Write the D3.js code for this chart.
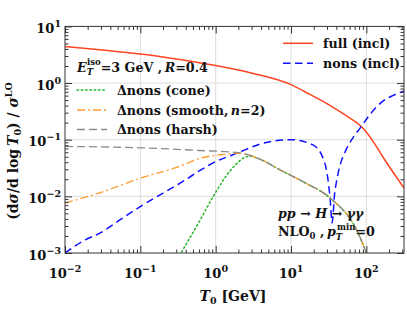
<!DOCTYPE html>
<html>
<head>
<meta charset="utf-8">
<script src="https://cdn.jsdelivr.net/npm/d3@7"></script>
<style>
body { margin: 0; background: #fff; }
svg text { font-family: "DejaVu Serif", serif; font-weight: bold; fill: #111; }
</style>
</head>
<body>
<div id="chart"></div>
<script>
// T0 [GeV] and (dsigma/dlogT0)/sigmaLO
var fullT = [0.01, 0.0316, 0.1, 0.316, 1, 3.16, 10, 17.8, 31.6, 56, 89, 126, 166, 316];
var fullV = [4.42, 3.85, 3.26, 2.63, 2.04, 1.48, 0.94, 0.63, 0.417, 0.257, 0.162, 0.089, 0.0495, 0.014];

// nons (incl) changes sign near 35 GeV, plotted as |value|
var nonsT = [0.01, 0.0178, 0.029, 0.056, 0.1, 0.316, 1, 1.9, 4.3, 10, 19.5, 27, 31, 33.1, 35.1,
             36.3, 37.6, 39.8, 44.7, 53.7, 66, 83, 112, 166, 224, 316];
var nonsV = [0.001, 0.00166, 0.00224, 0.004, 0.0066, 0.0162, 0.041, 0.0575, 0.087, 0.1, 0.081, 0.045, 0.0195, 0.0089, 0.0034,
             0.005, 0.01, 0.017, 0.035, 0.066, 0.107, 0.162, 0.28, 0.48, 0.6, 0.72];

var coneT = [0.33, 0.6, 0.93, 1.55, 2.8, 3.9, 7.1, 15.8, 31, 81, 100];
var coneV = [0.0009, 0.0035, 0.01, 0.028, 0.051, 0.045, 0.0295, 0.017, 0.01, 0.002, 0.001];

var smoothT = [0.01, 0.0316, 0.1, 0.316, 0.62, 1.3, 2.1, 3.9, 7.1, 15.8, 31, 81, 100];
var smoothV = [0.0076, 0.012, 0.021, 0.033, 0.047, 0.055, 0.058, 0.045, 0.0295, 0.017, 0.01, 0.002, 0.001];

var harshT = [0.01, 0.1, 0.6, 2, 3.9, 7.1, 15.8, 31, 81, 100];
var harshV = [0.076, 0.072, 0.0645, 0.059, 0.045, 0.0295, 0.017, 0.01, 0.002, 0.001];

var xMajors = [0.01, 0.1, 1, 10, 100];
var yMajors = [0.001, 0.01, 0.1, 1, 10];

var W = 407, H = 309;
var x = d3.scaleLog().domain([0.01, 316]).range([65, 404]);
var y = d3.scaleLog().domain([0.001, 10]).range([253, 26.4]);

var svg = d3.select("#chart").append("svg").attr("width", W).attr("height", H);

function minors(scale) {
    var out = [];
    var dom = scale.domain();
    for (var e = Math.floor(Math.log10(dom[0])); e <= Math.ceil(Math.log10(dom[1])); e++) {
        for (var k = 2; k <= 9; k++) {
            var v = k * Math.pow(10, e);
            if (v > dom[0] && v < dom[1]) out.push(v);
        }
    }
    return out;
}

// grid
svg.append("g").selectAll("line").data(xMajors.slice(1)).join("line")
    .attr("x1", d => x(d)).attr("x2", d => x(d))
    .attr("y1", y(10)).attr("y2", y(0.001))
    .attr("stroke", "#dcdcdc").attr("stroke-width", 1);
svg.append("g").selectAll("line").data(yMajors.slice(1, -1)).join("line")
    .attr("y1", d => y(d)).attr("y2", d => y(d))
    .attr("x1", x(0.01)).attr("x2", x(316))
    .attr("stroke", "#dcdcdc").attr("stroke-width", 1);

// curves
svg.append("clipPath").attr("id", "clip").append("rect")
    .attr("x", x(0.01)).attr("y", y(10))
    .attr("width", x(316) - x(0.01)).attr("height", y(0.001) - y(10));

var line = d3.line().x(d => x(d[0])).y(d => y(d[1])).curve(d3.curveMonotoneX);

var styles = {
    full:   {color: "#ff4422", width: 1.5, dash: null},
    nons:   {color: "#1010ff", width: 1.5, dash: "7.5,4.5"},
    cone:   {color: "#22b422", width: 1.5, dash: "1.5,2.8", cap: "round"},
    smooth: {color: "#ff9a2e", width: 1.3, dash: "8,3,2,3"},
    harsh:  {color: "#8c8c8c", width: 1.3, dash: "8,4"}
};

var series = [
    ["full", fullT, fullV],
    ["nons", nonsT, nonsV],
    ["cone", coneT, coneV],
    ["smooth", smoothT, smoothV],
    ["harsh", harshT, harshV]
];

var plot = svg.append("g").attr("clip-path", "url(#clip)");
series.forEach(s => {
    var st = styles[s[0]];
    plot.append("path")
        .datum(d3.zip(s[1], s[2]))
        .attr("d", line)
        .attr("fill", "none")
        .attr("stroke", st.color)
        .attr("stroke-width", st.width)
        .attr("stroke-dasharray", st.dash)
        .attr("stroke-linecap", st.cap || "butt");
});

// ticks, pointing inward on all four sides
function ticks(axis, pos, vals, size) {
    var g = svg.append("g").attr("transform", pos)
        .call(axis.tickValues(vals).tickSize(-size).tickFormat(""));
    g.select(".domain").remove();
    g.selectAll("line").attr("stroke", "#333");
    return g;
}
ticks(d3.axisBottom(x), "translate(0," + y(0.001) + ")", xMajors, 7);
ticks(d3.axisBottom(x), "translate(0," + y(0.001) + ")", minors(x), 3.5);
ticks(d3.axisTop(x), "translate(0," + y(10) + ")", xMajors, 7);
ticks(d3.axisTop(x), "translate(0," + y(10) + ")", minors(x), 3.5);
ticks(d3.axisLeft(y), "translate(" + x(0.01) + ",0)", yMajors, 7);
ticks(d3.axisLeft(y), "translate(" + x(0.01) + ",0)", minors(y), 3.5);
ticks(d3.axisRight(y), "translate(" + x(316) + ",0)", yMajors, 7);
ticks(d3.axisRight(y), "translate(" + x(316) + ",0)", minors(y), 3.5);

svg.append("rect")
    .attr("x", x(0.01)).attr("y", y(10))
    .attr("width", x(316) - x(0.01)).attr("height", y(0.001) - y(10))
    .attr("fill", "none").attr("stroke", "#333").attr("stroke-width", 1);

// tick labels 10^n
function powLabel(sel, v) {
    var e = Math.round(Math.log10(v));
    sel.append("tspan").text("10");
    sel.append("tspan").attr("dy", -6).attr("font-size", 9.5)
        .text(e < 0 ? "\u2212" + (-e) : e);
}
xMajors.forEach(v => {
    var t = svg.append("text").attr("x", x(v)).attr("y", 277.5)
        .attr("text-anchor", "middle").attr("font-size", 13);
    powLabel(t, v);
});
yMajors.forEach(v => {
    var t = svg.append("text").attr("x", 61).attr("y", y(v) + 6.5)
        .attr("text-anchor", "end").attr("font-size", 13);
    powLabel(t, v);
});

// axis titles
var xl = svg.append("text").attr("x", 233).attr("y", 301).attr("text-anchor", "middle").attr("font-size", 14);
xl.append("tspan").attr("font-style", "italic").text("T");
xl.append("tspan").attr("font-size", 9.5).attr("dy", 3).text("0");
xl.append("tspan").attr("dy", -3).text(" [GeV]");

var yl = svg.append("text").attr("transform", "translate(18,151) rotate(-90)")
    .attr("text-anchor", "middle").attr("font-size", 14);
yl.append("tspan").text("(d");
yl.append("tspan").attr("font-style", "italic").text("\u03c3");
yl.append("tspan").text("/d log\u2009");
yl.append("tspan").attr("font-style", "italic").text("T");
yl.append("tspan").attr("font-size", 9.5).attr("dy", 3).text("0");
yl.append("tspan").attr("dy", -3).text(") / ");
yl.append("tspan").attr("font-style", "italic").text("\u03c3");
yl.append("tspan").attr("font-size", 9.5).attr("dy", -6).text("LO");

// legends
function legendRow(x0, yc, key, label) {
    var st = styles[key];
    svg.append("line").attr("x1", x0).attr("x2", x0 + 30).attr("y1", yc).attr("y2", yc)
        .attr("stroke", st.color).attr("stroke-width", st.width)
        .attr("stroke-dasharray", st.dash).attr("stroke-linecap", st.cap || "butt");
    var t = svg.append("text").attr("x", x0 + 40).attr("y", yc + 4.5).attr("font-size", 12.7);
    label(t);
    return t;
}
legendRow(283, 43.3, "full", t => t.text("full (incl)"));
legendRow(283, 63.3, "nons", t => t.text("nons (incl)"));
legendRow(77, 90, "cone", t => t.text("\u0394nons (cone)"));
legendRow(77, 110, "smooth", t => {
    t.append("tspan").text("\u0394nons (smooth,\u2009");
    t.append("tspan").attr("font-style", "italic").text("n");
    t.append("tspan").text("=2)");
});
legendRow(77, 129.5, "harsh", t => t.text("\u0394nons (harsh)"));

var ti = svg.append("text").attr("x", 77).attr("y", 71.5).attr("font-size", 12.7);
ti.append("tspan").attr("font-style", "italic").text("E");
ti.append("tspan").attr("font-size", 8.5).attr("dy", 3.5).attr("font-style", "italic").text("T");
ti.append("tspan").attr("font-size", 8.5).attr("dx", -6).attr("dy", -10).text("iso");
ti.append("tspan").attr("dy", 6.5).text("=3 GeV ,\u2009");
ti.append("tspan").attr("font-style", "italic").text("R");
ti.append("tspan").text("=0.4");

var p1 = svg.append("text").attr("x", 278).attr("y", 218).attr("font-size", 12.7);
p1.append("tspan").attr("font-style", "italic").text("pp");
p1.append("tspan").text(" \u2192 ");
p1.append("tspan").attr("font-style", "italic").text("H");
p1.append("tspan").text(" \u2192 ");
p1.append("tspan").attr("font-style", "italic").text("\u03b3\u03b3");

var p2 = svg.append("text").attr("x", 278).attr("y", 236).attr("font-size", 12.7);
p2.append("tspan").text("NLO");
p2.append("tspan").attr("font-size", 8.5).attr("dy", 3).text("0");
p2.append("tspan").attr("dy", -3).text(" ,\u2009");
p2.append("tspan").attr("font-style", "italic").text("p");
p2.append("tspan").attr("font-size", 8.5).attr("dy", 3.5).attr("font-style", "italic").text("T");
p2.append("tspan").attr("font-size", 8.5).attr("dx", -5).attr("dy", -10).text("min");
p2.append("tspan").attr("dy", 6.5).text("=0");
</script>
</body>
</html>
